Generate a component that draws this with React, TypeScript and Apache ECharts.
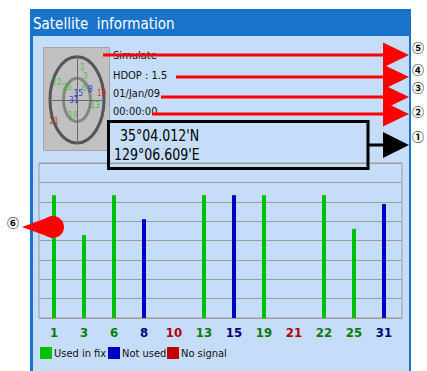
import React, { useEffect, useRef } from 'react';
import * as echarts from 'echarts';

// ---- data ----
const SATS = ['1', '3', '6', '8', '10', '13', '15', '19', '21', '22', '25', '31'];
const STATUS = ['used', 'used', 'used', 'notused', 'nosignal', 'used', 'notused', 'used', 'nosignal', 'used', 'used', 'notused'];
const SNR = [31.7, 21.4, 31.7, 25.5, 0, 31.7, 31.7, 31.7, 0, 31.7, 23.0, 29.4];
const SKY_X = [0.2, 0.3, 0.26, 0.5, 0.91, 0.67, 0.05, -0.16, -0.85, -0.75, -0.38, -0.12];
const SKY_Y = [0.75, 0.56, 0.28, 0.24, 0.16, -0.11, 0.17, -0.35, -0.48, 0.41, 0.3, 0.0];
const INFO_LINES = ['Simulate', 'HDOP : 1.5', '01/Jan/09', '00:00:00'];
const POSITION = ["35\u00B004.012'N", "129\u00B006.609'E"];
const GROUPS = [
  { key: 'used', name: 'Used in fix', bar: '#00c000', axis: '#0b7a0b', sky: '#1fc01f' },
  { key: 'notused', name: 'Not used', bar: '#0000c0', axis: '#00007a', sky: '#1010d8' },
  { key: 'nosignal', name: 'No signal', bar: '#c00000', axis: '#b00000', sky: '#d82020' },
];

const NARROW = "'Liberation Sans Narrow', 'DejaVu Sans Condensed', 'Arial Narrow', sans-serif";

// sky plot geometry
const SKY = { left: 50, top: 56.7, width: 54, height: 86.3 };
const SKY_CX = SKY.left + SKY.width / 2;
const SKY_CY = SKY.top + SKY.height / 2;

function arrow(y: number, x0: number, color: string) {
  return [
    { type: 'line', z: 50, shape: { x1: x0, y1: y, x2: 386, y2: y }, style: { stroke: color, lineWidth: 3 } },
    { type: 'polygon', z: 50, shape: { points: [[383, y - 12.5], [409, y], [383, y + 12.5]] }, style: { fill: color } },
  ];
}

export default function App() {
  const ref = useRef<HTMLDivElement>(null);
  useEffect(() => {
    if (!ref.current) return;
    const chart = echarts.init(ref.current, undefined, { renderer: 'svg' });
    const colorOf = (i: number) => GROUPS.find((g) => g.key === STATUS[i])!;

    const barSeries = GROUPS.map((g) => ({
      type: 'bar',
      name: g.name,
      xAxisIndex: 1,
      yAxisIndex: 1,
      barWidth: 4,
      barGap: '-100%',
      itemStyle: { color: g.bar },
      data: SNR.map((v, i) => (STATUS[i] === g.key ? v : '-')),
    }));
    const skySeries = GROUPS.map((g) => ({
      type: 'scatter',
      name: 'sky-' + g.key,
      xAxisIndex: 2,
      yAxisIndex: 2,
      symbolSize: 0,
      label: {
        show: true,
        position: 'inside',
        formatter: (p: any) => p.value[2],
        color: g.sky,
        fontSize: 8.5,
        fontFamily: NARROW,
      },
      data: SATS.map((s, i) => (STATUS[i] === g.key ? [SKY_X[i], SKY_Y[i], s] : null)).filter(Boolean),
    }));

    const graphic: any[] = [
      { type: 'rect', z: -20, shape: { x: 30, y: 9, width: 381, height: 362 }, style: { fill: '#1a73cb' } },
      { type: 'rect', z: -19, shape: { x: 33, y: 36, width: 376, height: 335 }, style: { fill: '#c5ddf8' } },
      { type: 'text', z: 5, x: 33, y: 23, scaleY: 1.1, style: { text: 'Satellite  information', fill: '#ffffff', font: '15px ' + NARROW, verticalAlign: 'middle' } },
      { type: 'rect', z: -18, shape: { x: 43.5, y: 47.5, width: 66, height: 103 }, style: { fill: '#c0c0c0', stroke: '#a4a4a4', lineWidth: 1 } },
      { type: 'ellipse', z: -17, shape: { cx: SKY_CX, cy: SKY_CY, rx: SKY.width / 2, ry: SKY.height / 2 }, style: { fill: 'none', stroke: '#555555', lineWidth: 3 } },
      { type: 'ellipse', z: -17, shape: { cx: SKY_CX, cy: SKY_CY, rx: SKY.width / 4, ry: SKY.height / 4 }, style: { fill: 'none', stroke: '#858585', lineWidth: 3 } },
      ...INFO_LINES.map((t, i) => ({
        type: 'text', z: 5, x: 113, y: [55, 75, 93.5, 111.5][i],
        style: { text: t, fill: '#111111', font: '11px ' + NARROW, verticalAlign: 'middle' },
      })),
      { type: 'rect', z: 5, shape: { x: 108.5, y: 121.5, width: 259.5, height: 47 }, style: { fill: 'none', stroke: '#000000', lineWidth: 3 } },
      { type: 'text', z: 5, x: 120, y: 136, scaleY: 1.15, style: { text: POSITION[0], fill: '#000000', font: '14px ' + NARROW, verticalAlign: 'middle' } },
      { type: 'text', z: 5, x: 114, y: 155, scaleY: 1.15, style: { text: POSITION[1], fill: '#000000', font: '14px ' + NARROW, verticalAlign: 'middle' } },
      ...arrow(55, 103, '#ff0000'),
      ...arrow(77, 176, '#ff0000'),
      ...arrow(97, 161, '#ff0000'),
      ...arrow(114, 152, '#ff0000'),
      { type: 'line', z: 50, shape: { x1: 368, y1: 145, x2: 386, y2: 145 }, style: { stroke: '#000000', lineWidth: 3 } },
      { type: 'polygon', z: 50, shape: { points: [[383, 132], [409, 145], [383, 158]] }, style: { fill: '#000000' } },
      { type: 'polygon', z: 50, shape: { points: [[22, 227], [52, 216], [52, 238]] }, style: { fill: '#ff0000' } },
      { type: 'circle', z: 50, shape: { cx: 53, cy: 227, r: 11 }, style: { fill: '#ff0000' } },
      ...['\u2464', '\u2463', '\u2462', '\u2461', '\u2460'].map((c, i) => ({
        type: 'text', z: 50, x: 418, y: [47, 69.5, 87.5, 111, 136][i],
        style: { text: c, fill: '#000000', font: "bold 12px 'Noto Sans CJK SC'", lineHeight: 13, align: 'center', verticalAlign: 'middle' },
      })),
      { type: 'text', z: 50, x: 13, y: 222, style: { text: '\u2465', fill: '#000000', font: "bold 12px 'Noto Sans CJK SC'", lineHeight: 13, align: 'center', verticalAlign: 'middle' } },
    ];

    const legendBase = {
      top: 347,
      itemWidth: 12,
      itemHeight: 12,
      icon: 'rect',
      textStyle: { fontSize: 11, fontFamily: NARROW, color: '#111111', padding: [0, 0, 0, -3] },
      padding: 0,
    };

    chart.setOption({
      animation: false,
      backgroundColor: '#ffffff',
      graphic,
      legend: [
        { ...legendBase, left: 40, data: [GROUPS[0].name] },
        { ...legendBase, left: 108, data: [GROUPS[1].name] },
        { ...legendBase, left: 167, data: [GROUPS[2].name] },
      ],
      grid: [
        { left: 39, top: 163, width: 363, height: 155, show: true, backgroundColor: 'transparent', borderColor: '#9c9c9c', borderWidth: 1 },
        { left: 39, top: 163, width: 360, height: 155 },
        { left: SKY.left, top: SKY.top, width: SKY.width, height: SKY.height },
      ],
      xAxis: [
        { gridIndex: 0, type: 'value', min: 0, max: 1, show: false },
        {
          gridIndex: 1, type: 'category', data: SATS,
          axisLine: { show: false }, axisTick: { show: false },
          axisLabel: {
            margin: 8, fontSize: 13, fontWeight: 'bold', fontFamily: NARROW,
            color: (_v: any, i: number) => colorOf(i).axis,
          },
        },
        {
          gridIndex: 2, type: 'value', min: -1, max: 1,
          axisLine: { show: true, onZero: true, lineStyle: { color: '#6a6a6a', width: 1 } },
          axisTick: { show: false }, axisLabel: { show: false }, splitLine: { show: false },
        },
      ],
      yAxis: [
        {
          gridIndex: 0, type: 'value', min: 0, max: 40, interval: 5,
          axisLine: { show: false }, axisTick: { show: false }, axisLabel: { show: false },
          splitLine: { show: true, lineStyle: { color: '#9c9c9c', width: 1 } },
        },
        { gridIndex: 1, type: 'value', min: 0, max: 40, show: false },
        {
          gridIndex: 2, type: 'value', min: -1, max: 1,
          axisLine: { show: true, onZero: true, lineStyle: { color: '#6a6a6a', width: 1 } },
          axisTick: { show: false }, axisLabel: { show: false }, splitLine: { show: false },
        },
      ],
      series: [...barSeries, ...skySeries],
    });
    return () => chart.dispose();
  }, []);
  return <div ref={ref} style={{ position: 'fixed', left: 0, top: 0, width: 427, height: 371 }} />;
}
